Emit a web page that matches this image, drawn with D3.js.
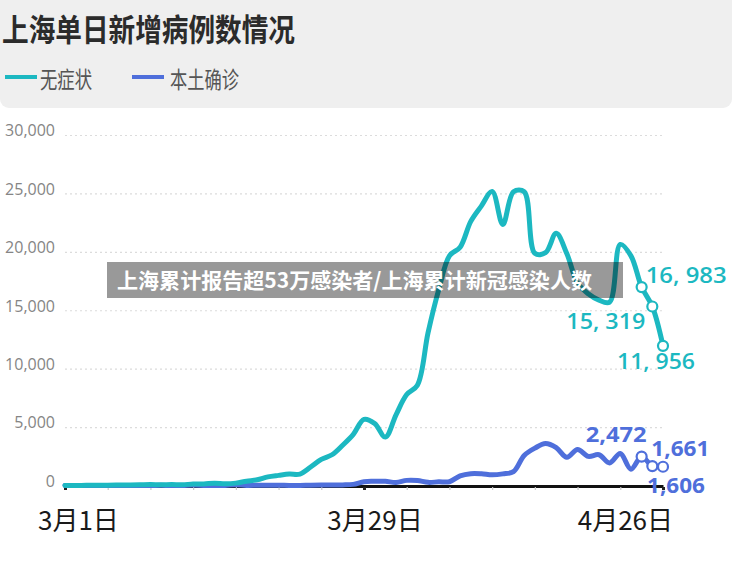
<!DOCTYPE html>
<html>
<head>
<meta charset="utf-8">
<script src="https://cdn.jsdelivr.net/npm/d3@7"></script>
<style>
    body { margin: 0; background: #ffffff; }
    svg { display: block; font-family: "Noto Sans CJK SC", "Noto Sans", sans-serif; }
</style>
</head>
<body>
<div id="chart"></div>
<script>
// days shown on the x axis (one point per day)
const startDay = new Date(2022, 2, 1);
const endDay = new Date(2022, 3, 26);
const days = d3.timeDay.range(startDay, d3.timeDay.offset(endDay, 1));

// 无症状 (asymptomatic), 3/1 .. 4/26
const asymptomatic = [
    1, 3, 14, 16, 28, 45, 51, 62, 76, 64,
    78, 64, 128, 130, 197, 150, 203, 366, 492, 734,
    865, 977, 979, 1580, 2231, 2631, 3450, 4381, 5656, 5298,
    4144,
    6051, 7788, 8581, 13086, 16766, 19660, 20398, 22609, 23937, 25173,
    22348, 25141, 25146, 19872, 19923, 21582, 19831, 17332, 16407, 15861,
    15698, 20634, 19657, 16983, 15319, 11956
];

// 本土确诊 (local confirmed), 3/1 .. 4/26
const confirmed = [
    1, 0, 2, 3, 0, 3, 1, 3, 4, 11,
    5, 1, 41, 9, 5, 8, 57, 8, 17, 24,
    31, 4, 4, 29, 38, 45, 50, 96, 326, 355,
    358,
    260, 438, 425, 268, 311, 322, 824, 1015, 1006, 914,
    994, 1189, 2573, 3200, 3590, 3238, 2417, 3084, 2494, 2634,
    1931, 2736, 1401, 2472, 1661, 1606
];

const seriesNames = ["无症状", "本土确诊"];
const yTicks = [0, 5000, 10000, 15000, 20000, 25000, 30000];
const xLabelDays = [new Date(2022, 2, 1), new Date(2022, 2, 29), new Date(2022, 3, 26)];
const xLabels = ["3月1日", "3月29日", "4月26日"];
const titleText = "上海单日新增病例数情况";
const bannerText = "上海累计报告超53万感染者/上海累计新冠感染人数";

const teal = "#1cb8c1";
const blue = "#4f6fdb";

let width = 732, height = 561;

let svg = d3.select("#chart")
    .append("svg")
        .attr("width", width)
        .attr("height", height);

// header panel
svg.append("rect")
    .attr("x", 0)
    .attr("y", -20)
    .attr("width", width)
    .attr("height", 128)
    .attr("rx", 9)
    .attr("fill", "#efefef");

svg.append("text")
    .attr("x", 2)
    .attr("y", 41)
    .attr("font-size", 31)
    .attr("font-weight", "bold")
    .attr("fill", "#2b2b2b")
    .attr("textLength", 293)
    .attr("lengthAdjust", "spacingAndGlyphs")
    .text(titleText);

// legend
let legendItems = [
    {name: seriesNames[0], color: teal, x1: 5, x2: 37, tx: 40, tl: 52},
    {name: seriesNames[1], color: blue, x1: 132, x2: 164, tx: 170, tl: 69}
];
let legend = svg.append("g").selectAll("g")
    .data(legendItems)
    .enter()
    .append("g");
legend.append("line")
    .attr("x1", d => d.x1)
    .attr("x2", d => d.x2)
    .attr("y1", 77)
    .attr("y2", 77)
    .attr("stroke", d => d.color)
    .attr("stroke-width", 4);
legend.append("text")
    .attr("x", d => d.tx)
    .attr("y", 88)
    .attr("font-size", 23)
    .attr("fill", "#555555")
    .attr("textLength", d => d.tl)
    .attr("lengthAdjust", "spacingAndGlyphs")
    .text(d => d.name);

// scales
let x = d3.scaleTime()
    .domain([startDay, endDay])
    .range([65, 663]);

let y = d3.scaleLinear()
    .domain([0, 30000])
    .range([485.5, 135]);

// y grid + labels
let yAxis = svg.append("g")
    .attr("transform", "translate(65,0)")
    .call(d3.axisLeft(y)
        .tickValues(yTicks)
        .tickSize(-(663 - 65))
        .tickPadding(10)
        .tickFormat(d3.format(",")));
yAxis.select(".domain").remove();
yAxis.selectAll(".tick line")
    .attr("stroke", "#dcdcdc")
    .attr("stroke-dasharray", "2,3")
    .attr("stroke-width", 1.2)
    .filter(d => d === 0).remove();
yAxis.selectAll(".tick text")
    .attr("font-family", "'Open Sans', 'Noto Sans', sans-serif")
    .attr("font-size", 16)
    .attr("fill", "#858585")
    .attr("dy", "0.05em");

// x axis
let xAxis = svg.append("g")
    .attr("transform", "translate(0,486)")
    .call(d3.axisBottom(x)
        .tickValues(d3.timeDay.range(startDay, d3.timeDay.offset(endDay, 1), 4))
        .tickSize(4)
        .tickSizeOuter(0)
        .tickFormat(""));
xAxis.select(".domain")
    .attr("stroke", "#111111")
    .attr("stroke-width", 3);
xAxis.selectAll(".tick line")
    .attr("stroke", d => xLabelDays.some(l => +l === +d) ? "#222222" : "#c8c8c8")
    .attr("stroke-width", d => xLabelDays.some(l => +l === +d) ? 3 : 1.2)
    .attr("y1", 1);

let xLabelAnchors = ["start", "middle", "end"];
let xLabelShift = [-27, 11, 10];
svg.append("g").selectAll("text")
    .data(xLabels)
    .enter()
    .append("text")
        .attr("x", (d, i) => x(xLabelDays[i]) + xLabelShift[i])
        .attr("y", 530)
        .attr("text-anchor", (d, i) => xLabelAnchors[i])
        .attr("font-size", 26)
        .attr("fill", "#1a1a1a")
        .text(d => d);

// lines
let line = d3.line()
    .curve(d3.curveCatmullRom.alpha(0.5))
    .x((d, i) => x(days[i]))
    .y(d => y(d));

svg.append("path")
    .datum(confirmed)
    .attr("fill", "none")
    .attr("stroke", blue)
    .attr("stroke-width", 5)
    .attr("stroke-linejoin", "round")
    .attr("stroke-linecap", "round")
    .attr("d", line);

svg.append("path")
    .datum(asymptomatic)
    .attr("fill", "none")
    .attr("stroke", teal)
    .attr("stroke-width", 5)
    .attr("stroke-linejoin", "round")
    .attr("stroke-linecap", "round")
    .attr("d", line);

// end markers and value labels (last three days)
let lastN = 3;
let markerSets = [
    {values: asymptomatic, color: teal, weight: 600, size: 22,
        place: [
            {anchor: "start", dx: 4, dy: -4, len: 81},
            {anchor: "end", dx: -7, dy: 22, len: 79},
            {anchor: "middle", dx: -7, dy: 23, len: 78}
        ]},
    {values: confirmed, color: blue, weight: "bold", size: 21,
        place: [
            {anchor: "end", dx: 5, dy: -15, len: 61},
            {anchor: "start", dx: -1, dy: -10, len: 58},
            {anchor: "start", dx: -16, dy: 26, len: 58}
        ]}
];

markerSets.forEach(set => {
    let n = set.values.length;
    let pts = set.values.slice(n - lastN).map((v, k) => ({
        v: v, day: days[n - lastN + k], p: set.place[k]
    }));
    let g = svg.append("g");
    g.selectAll("circle")
        .data(pts)
        .enter()
        .append("circle")
            .attr("cx", d => x(d.day))
            .attr("cy", d => y(d.v))
            .attr("r", 5)
            .attr("fill", "#ffffff")
            .attr("stroke", set.color)
            .attr("stroke-width", 2.2);
    g.selectAll("text")
        .data(pts)
        .enter()
        .append("text")
            .attr("x", d => x(d.day) + d.p.dx)
            .attr("y", d => y(d.v) + d.p.dy)
            .attr("text-anchor", d => d.p.anchor)
            .attr("font-family", "'Open Sans', 'Noto Sans', sans-serif")
            .attr("font-size", set.size)
            .attr("font-weight", set.weight)
            .attr("fill", set.color)
            .attr("textLength", d => d.p.len)
            .attr("lengthAdjust", "spacingAndGlyphs")
            .text(d => set.color === teal ? d3.format(",")(d.v).replace(",", ", ") : d3.format(",")(d.v));
});

// caption banner over the chart
svg.append("rect")
    .attr("x", 107)
    .attr("y", 262)
    .attr("width", 516)
    .attr("height", 36)
    .attr("fill", "rgba(0,0,0,0.4)");

svg.append("text")
    .attr("x", 117)
    .attr("y", 288)
    .attr("font-size", 21)
    .attr("font-weight", "bold")
    .attr("fill", "#ffffff")
    .attr("textLength", 475)
    .attr("lengthAdjust", "spacingAndGlyphs")
    .text(bannerText);
</script>
</body>
</html>
